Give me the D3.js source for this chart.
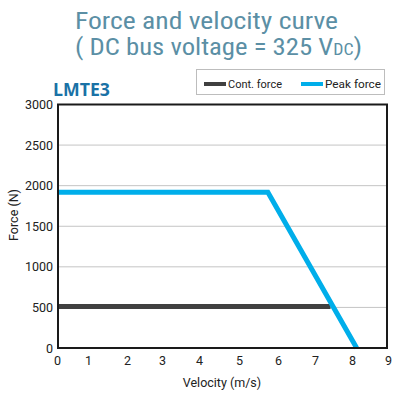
<!DOCTYPE html>
<html><head><meta charset="utf-8">
<script src="https://cdn.jsdelivr.net/npm/d3@7"></script>
<style>
html,body{margin:0;padding:0;background:#fff;}
svg{display:block;}
text{font-family:"Roboto Condensed","Liberation Sans Narrow","DejaVu Sans Condensed",Roboto,sans-serif;}
.tk text, .ax, .lg{font-family:Roboto,"DejaVu Sans",sans-serif;}
</style></head>
<body>
<svg id="chart" width="401" height="397"></svg>
<script>
const xTicks = [0,1,2,3,4,5,6,7,8,9];
const xTickPx = [57,88,127,162,199,239,278,315,352,388];
const yTicks = [0,500,1000,1500,2000,2500,3000];
const contVelocity = [0, 7.42];
const contForce = [510, 510];
const peakVelocity = [0, 5.74, 8.13];
const peakForce = [1920, 1920, 0];
const seriesNames = ["Cont. force","Peak force"];
const seriesColors = ["#404040","#00aeea"];

const svg = d3.select("#chart");
const L = 58, R = 387, T = 104.5, B = 348;
const x = d3.scaleLinear().domain(xTicks).range(xTickPx);
const y = d3.scaleLinear().domain([0,3000]).range([B,T]);

// titles
svg.append("text").attr("x",75).attr("y",29)
  .attr("font-size",24).attr("fill","#5b8fa5").attr("textLength",263).attr("lengthAdjust","spacingAndGlyphs")
  .text("Force and velocity curve");
const t2 = svg.append("text").attr("x",75).attr("y",55).attr("font-size",24).attr("fill","#5b8fa5")
  .attr("textLength",287).attr("lengthAdjust","spacingAndGlyphs");
t2.append("tspan").text("( DC bus voltage = 325 V");
t2.append("tspan").attr("font-size",16).text("DC");
t2.append("tspan").text(")");

svg.append("text").attr("x",53).attr("y",96).attr("font-size",18).attr("font-weight","bold")
  .attr("fill","#1a72a6").style("font-family","'Open Sans',sans-serif").attr("textLength",57).attr("lengthAdjust","spacingAndGlyphs").text("LMTE3");

// gridlines
svg.append("g").selectAll("line").data(yTicks.filter(d=>d>0 && d<3000)).join("line")
  .attr("x1",L).attr("x2",R).attr("y1",d=>y(d)).attr("y2",d=>y(d))
  .attr("stroke","#c4c4c4").attr("stroke-width",1);

// axes labels via d3 axis
const yAxis = svg.append("g").attr("class","tk").attr("transform",`translate(${L-5},0)`)
  .call(d3.axisLeft(y).tickValues(yTicks).tickSize(0).tickPadding(0).tickFormat(d3.format("d")));
yAxis.select(".domain").remove();
yAxis.selectAll("text").attr("font-size",12.5).attr("fill","#222").attr("dy","0.32em");

const xAxis = svg.append("g").attr("class","tk").attr("transform",`translate(0,${B+8})`)
  .call(d3.axisBottom(x).tickValues(xTicks).tickSize(0).tickPadding(0).tickFormat(d3.format("d")));
xAxis.select(".domain").remove();
xAxis.selectAll("text").attr("font-size",12.5).attr("fill","#222").attr("dy","0.71em");

svg.append("text").attr("class","ax").attr("x",222).attr("y",387).attr("text-anchor","middle").attr("font-size",12.5).attr("fill","#222").text("Velocity (m/s)");
svg.append("text").attr("class","ax").attr("transform","translate(18,215) rotate(-90)").attr("text-anchor","middle").attr("font-size",12.5).attr("fill","#222").text("Force (N)");

// data lines
const line = d3.line().x(d=>x(d[0])).y(d=>y(d[1]));
svg.append("path").datum(contVelocity.map((v,i)=>[v,contForce[i]]))
  .attr("d",line).attr("fill","none").attr("stroke",seriesColors[0]).attr("stroke-width",5);
svg.append("path").datum(peakVelocity.map((v,i)=>[v,peakForce[i]]))
  .attr("d",line).attr("fill","none").attr("stroke",seriesColors[1]).attr("stroke-width",5);

// frame
svg.append("rect").attr("x",L).attr("y",T).attr("width",R-L).attr("height",B-T)
  .attr("fill","none").attr("stroke","#1a1a1a").attr("stroke-width",2);

// legend
const lg = svg.append("g");
lg.append("rect").attr("x",196.5).attr("y",69.5).attr("width",188).attr("height",25)
  .attr("fill","#fff").attr("stroke","#bdbdbd").attr("stroke-width",1);
const lx = [204,301];
const lw = [54,56];
seriesNames.forEach((n,i)=>{
  lg.append("rect").attr("x",lx[i]).attr("y",82).attr("width",22).attr("height",4).attr("fill",seriesColors[i]);
  lg.append("text").attr("class","lg").attr("x",lx[i]+24).attr("y",88).attr("font-size",11.5).attr("fill","#222")
    .attr("textLength",lw[i]).attr("lengthAdjust","spacingAndGlyphs").text(n);
});
</script>
</body></html>
